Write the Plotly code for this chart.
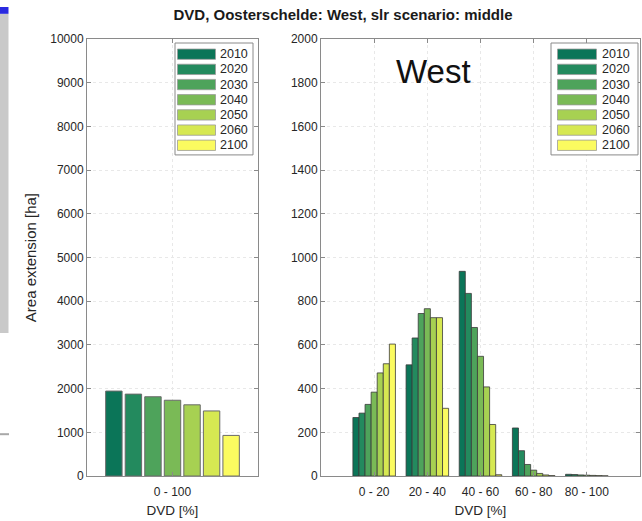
import plotly.graph_objects as go

# ---------------- data ----------------
years = ["2010", "2020", "2030", "2040", "2050", "2060", "2100"]
colors = ["#0b7558", "#238a5e", "#4ea35b", "#7aba56", "#a7d152", "#d6e852", "#fbfb60"]

left_categories = ["0 - 100"]
left_values = [1945, 1875, 1815, 1735, 1630, 1490, 930]  # one value per year

right_categories = ["0 - 20", "20 - 40", "40 - 60", "60 - 80", "80 - 100"]
west_2010 = [268, 509, 937, 220, 8]
west_2020 = [288, 632, 836, 116, 7]
west_2030 = [328, 744, 680, 53, 5]
west_2040 = [384, 766, 548, 27, 4]
west_2050 = [472, 725, 408, 12, 3]
west_2060 = [514, 725, 236, 5, 2]
west_2100 = [604, 310, 6, 2, 1]
right_series = [west_2010, west_2020, west_2030, west_2040, west_2050, west_2060, west_2100]

left_yticks = list(range(0, 10001, 1000))
right_yticks = list(range(0, 2001, 200))

# ---------------- layout helpers ----------------
W, H = 642, 521
FONT = "Liberation Sans, Arial, sans-serif"


def fx(x):
    return x / W


def fy(y):
    return 1 - y / H


fig = go.Figure()

for yr, col, val in zip(years, colors, left_values):
    fig.add_trace(go.Bar(
        x=left_categories, y=[val], name=yr, xaxis="x", yaxis="y",
        marker=dict(color=col, line=dict(color="#6a6a6a", width=1)),
        width=0.096, showlegend=False,
    ))

for yr, col, vals in zip(years, colors, right_series):
    fig.add_trace(go.Bar(
        x=right_categories, y=vals, name=yr, xaxis="x2", yaxis="y2",
        marker=dict(color=col, line=dict(color="#3a3a3a", width=0.8)),
        showlegend=False,
    ))

axis_common = dict(
    showline=True, linecolor="#8a8a8a", linewidth=1, mirror="ticks",
    ticks="inside", ticklen=4, tickcolor="#8a8a8a",
    showgrid=True, gridcolor="#e8e8e8", griddash="dot", gridwidth=1,
    zeroline=False,
    tickfont=dict(family=FONT, size=12, color="#262626"),
)

xtitle_font = dict(family=FONT, size=13.5, color="#262626")

fig.update_layout(
    width=W, height=H,
    margin=dict(l=0, r=0, t=0, b=0),
    paper_bgcolor="white", plot_bgcolor="white",
    barmode="group", bargap=0.2, bargroupgap=0.0,
    title=dict(
        text="DVD, Oosterschelde: West, slr scenario: middle",
        x=fx(343), y=fy(15), xanchor="center", yanchor="middle",
        font=dict(family=FONT, size=15, color="#1a1a1a", weight="bold"),
    ),
    xaxis=dict(domain=[fx(87), fx(258)], anchor="y", type="category",
               range=[-0.5, 0.5], ticklabelstandoff=5,
               title=dict(text="DVD [%]", standoff=7, font=xtitle_font),
               **axis_common),
    yaxis=dict(domain=[fy(482), fy(33)], anchor="x", range=[0, 10000],
               tickvals=left_yticks, tickformat="d",
               title=dict(text="Area extension [ha]", standoff=9,
                          font=dict(family=FONT, size=15, color="#262626")),
               **axis_common),
    xaxis2=dict(domain=[fx(321), fx(640)], anchor="y2", type="category",
                range=[-1, 5], ticklabelstandoff=5,
                title=dict(text="DVD [%]", standoff=7, font=xtitle_font),
                **axis_common),
    yaxis2=dict(domain=[fy(482), fy(33)], anchor="x2", range=[0, 2000],
                tickvals=right_yticks, tickformat="d", **axis_common),
)

shapes = []
annotations = []

# "West" label inside right panel
annotations.append(dict(
    text="West", x=fx(433), y=fy(66), xref="paper", yref="paper",
    xanchor="center", yanchor="middle", showarrow=False,
    font=dict(family=FONT, size=33, color="#111111"),
))

# legends (one per panel)
legend_specs = [
    dict(box=(175, 37, 253, 152), sw=(177.5, 215.5), tx=218),
    dict(box=(551, 37, 638, 152), sw=(557.5, 596.5), tx=600),
]
for spec in legend_specs:
    bx0, by0, bx1, by1 = spec["box"]
    shapes.append(dict(type="rect", xref="paper", yref="paper",
                       x0=fx(bx0), x1=fx(bx1), y0=fy(by1), y1=fy(by0),
                       line=dict(color="#8a8a8a", width=1), fillcolor="white",
                       layer="above"))
    for i, (yr, col) in enumerate(zip(years, colors)):
        cy = 48.5 + 15.6 * i
        shapes.append(dict(type="rect", xref="paper", yref="paper",
                           x0=fx(spec["sw"][0]), x1=fx(spec["sw"][1]),
                           y0=fy(cy + 5.3), y1=fy(cy - 5.3),
                           line=dict(color="#9a9a9a", width=0.8), fillcolor=col,
                           layer="above"))
        annotations.append(dict(
            text=yr, x=fx(spec["tx"]), y=fy(cy), xref="paper", yref="paper",
            xanchor="left", yanchor="middle", showarrow=False,
            font=dict(family=FONT, size=12.5, color="#262626"),
        ))

# slide-edge decorations at the left border of the screenshot
shapes.append(dict(type="rect", xref="paper", yref="paper",
                   x0=0, x1=fx(8.5), y0=fy(335), y1=fy(7),
                   line=dict(width=0), fillcolor="#c9c9c9", layer="below"))
shapes.append(dict(type="rect", xref="paper", yref="paper",
                   x0=0, x1=fx(8.5), y0=fy(7), y1=1,
                   line=dict(width=0), fillcolor="#2a2ae0", layer="below"))
shapes.append(dict(type="line", xref="paper", yref="paper",
                   x0=0, x1=fx(9), y0=fy(439), y1=fy(439),
                   line=dict(color="#a8a8a8", width=2), layer="below"))

fig.update_layout(shapes=shapes, annotations=annotations)

fig.write_html(
    "out.html",
    config={"displayModeBar": False},
    post_script="document.body.style.margin='0';document.body.style.overflow='hidden';",
)
